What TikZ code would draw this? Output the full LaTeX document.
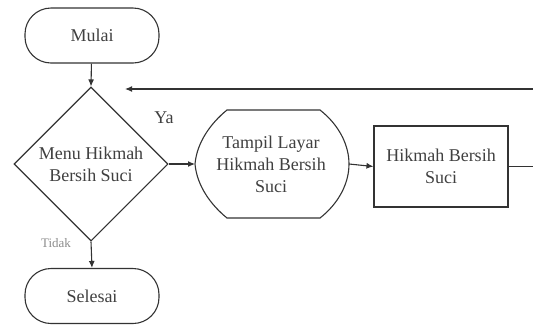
\documentclass[tikz,border=0pt]{standalone}
\usepackage{fontspec}
\setmainfont{Liberation Serif}
\usetikzlibrary{shapes.geometric,arrows.meta}
\begin{document}
\begin{tikzpicture}[x=1pt,y=-1pt,
  line width=1.1pt,
  every node/.style={font=\fontsize{18}{22}\selectfont, text=black!75},
  terminal/.style={draw=black!80, rounded corners=26pt, minimum width=134pt, minimum height=55pt, inner sep=0pt},
  decision/.style={draw=black!80, diamond, aspect=1, minimum size=154pt, inner sep=0pt, align=center},
  process/.style={draw=black!80, minimum width=134pt, minimum height=81pt, inner sep=0pt, align=center},
  conn/.style={draw=black!80, -{Latex[length=7pt,width=6pt]}},
  plain/.style={draw=black!80}
]
\useasboundingbox (0,0) rectangle (533,325);
\node[terminal] (mulai) at (92,35.5) {Mulai};
\node[decision] (menu) at (91,164) {Menu Hikmah\\Bersih Suci};
\node[terminal] (selesai) at (92,296) {Selesai};
% display shape
\draw[draw=black!80] (227,110) -- (320,110) .. controls (338,124) and (349,144) .. (349,164)
  .. controls (349,184) and (338,204) .. (320,218) -- (227,218)
  .. controls (211,205) and (197,186) .. (195,164)
  .. controls (197,142) and (211,123) .. (227,110) -- cycle;
\node[align=center, inner sep=0pt] (tampil) at (271,164) {Tampil Layar\\Hikmah Bersih\\Suci};
\coordinate (tampilW) at (195,164);
\coordinate (tampilE) at (349,164);
\node[process] (hikmah) at (441,166.5) {Hikmah Bersih\\Suci};
\coordinate (loopA) at (533,166.5);
\coordinate (loopB) at (533,89);
\coordinate (loopC) at (125,89);
\node[font=\fontsize{18}{22}\selectfont] (ya) at (164,118) {Ya};
\node[font=\fontsize{13}{15}\selectfont, text=black!45] (tidak) at (56,243) {Tidak};
\draw[conn] (mulai) -- (menu.north);
\draw[conn] (menu.east) -- (tampilW);
\draw[conn] (tampilE) -- (hikmah.west);
\draw[plain] (hikmah.east) -- (loopA);
\draw[conn] (loopB) -- (loopC);
\draw[conn] (menu.south) -- (selesai.north);
\end{tikzpicture}
\end{document}
